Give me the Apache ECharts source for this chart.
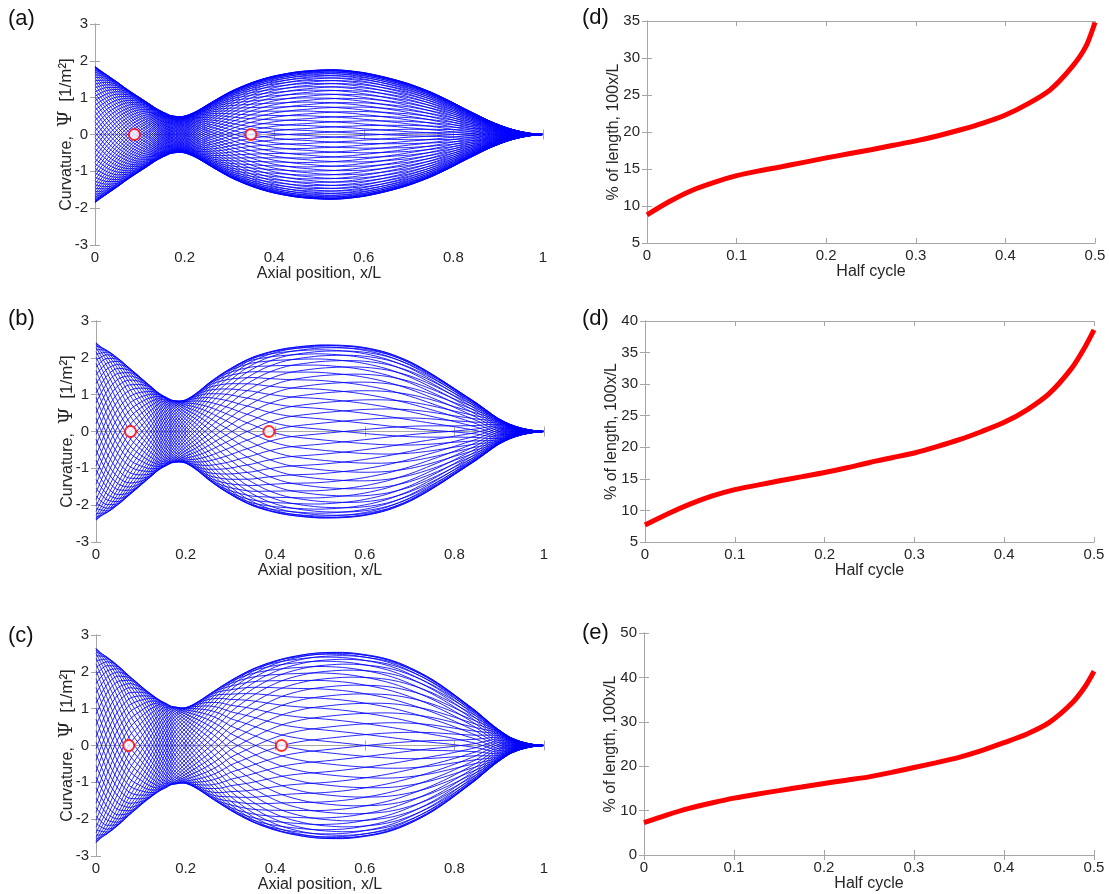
<!DOCTYPE html>
<html><head><meta charset="utf-8">
<script src="https://cdn.jsdelivr.net/npm/echarts@6/dist/echarts.min.js"></script>
<style>html,body{margin:0;padding:0;background:#fff}#c{width:1109px;height:894px}</style>
</head><body><div id="c"></div>
<script>
// Axial positions (x/L) where envelope & phase were read
const xPos = [0,0.025,0.05,0.075,0.1,0.125,0.15,0.175,0.2,0.225,0.25,0.275,0.3,0.325,0.35,0.375,0.4,0.425,0.45,0.475,0.5,0.525,0.55,0.575,0.6,0.625,0.65,0.675,0.7,0.725,0.75,0.775,0.8,0.825,0.85,0.875,0.9,0.925,0.95,0.975,1];

// Curvature envelope (max |Psi|) (a), (b), (c)
const envA = [1.85,1.63,1.42,1.2,1.0,0.8,0.62,0.5,0.5,0.62,0.8,0.98,1.15,1.29,1.41,1.51,1.59,1.65,1.7,1.73,1.75,1.76,1.75,1.72,1.68,1.62,1.55,1.47,1.38,1.27,1.15,1.01,0.86,0.7,0.55,0.4,0.27,0.16,0.08,0.025,0];
const envB = [2.41,2.2,1.98,1.72,1.46,1.2,0.97,0.84,0.86,1.05,1.3,1.52,1.71,1.88,2.02,2.12,2.2,2.26,2.3,2.33,2.35,2.35,2.34,2.32,2.28,2.22,2.14,2.03,1.9,1.74,1.56,1.37,1.17,0.97,0.77,0.55,0.34,0.19,0.09,0.03,0];
const envC = [2.64,2.4,2.16,1.88,1.62,1.38,1.18,1.05,1.03,1.17,1.37,1.57,1.76,1.93,2.08,2.2,2.3,2.38,2.44,2.49,2.52,2.53,2.53,2.51,2.47,2.42,2.35,2.25,2.12,1.97,1.8,1.6,1.38,1.15,0.92,0.66,0.42,0.22,0.1,0.03,0];

// Wave phase along the body (cycles), estimated from the zero-crossing travel in (d),(d),(e)
const phaseA = [-0.13,-0.095,-0.06,-0.022,0.017,0.06,0.138,0.245,0.34,0.403,0.441,0.463,0.481,0.493,0.501,0.506,0.51,0.512,0.514,0.515,0.517,0.518,0.52,0.521,0.523,0.524,0.526,0.527,0.529,0.53,0.532,0.534,0.537,0.541,0.547,0.57,0.61,0.645,0.665,0.675,0.68];
const phaseB = [-0.14,-0.09,-0.045,-0.003,0.034,0.083,0.161,0.247,0.321,0.374,0.413,0.44,0.459,0.475,0.486,0.496,0.503,0.508,0.511,0.513,0.515,0.517,0.519,0.521,0.523,0.525,0.527,0.529,0.531,0.533,0.535,0.537,0.54,0.545,0.553,0.575,0.615,0.65,0.67,0.68,0.685];
const phaseC = [-0.14,-0.09,-0.043,0.003,0.041,0.093,0.165,0.247,0.306,0.357,0.395,0.425,0.451,0.466,0.478,0.488,0.496,0.502,0.506,0.509,0.511,0.513,0.515,0.517,0.519,0.521,0.523,0.525,0.527,0.529,0.531,0.533,0.536,0.541,0.549,0.57,0.61,0.645,0.665,0.675,0.68];

// Number of time snapshots drawn per panel
const snapsA = 80, snapsB = 52, snapsC = 52;

// Right panels: zero-crossing position (% of length) vs half cycle
const halfCycle = [0,0.025,0.05,0.075,0.1,0.125,0.15,0.175,0.2,0.225,0.25,0.275,0.3,0.325,0.35,0.375,0.4,0.425,0.45,0.475,0.49,0.5];
const pctD1 = [8.8,10.6,12.1,13.2,14.1,14.75,15.3,15.9,16.5,17.05,17.6,18.2,18.8,19.5,20.3,21.2,22.3,23.8,25.7,28.9,31.6,34.8];
const pctD2 = [7.7,9.45,11.0,12.3,13.3,14.0,14.7,15.35,16.0,16.75,17.6,18.35,19.1,20.1,21.2,22.5,23.95,25.9,28.5,32.5,35.9,38.6];
const pctE  = [7.3,9.0,10.5,11.7,12.8,13.7,14.5,15.3,16.1,16.85,17.6,18.6,19.7,20.8,22.0,23.5,25.3,27.2,29.8,34.1,37.9,41.4];

const FONT = '"Liberation Sans", Arial, sans-serif';
const AX = '#a6a6a6', TXT = '#262626';

const leftGrids = [
  {left:95, top:24, width:448, height:221},
  {left:96, top:321, width:448, height:221},
  {left:96, top:635, width:448, height:221}
];
const rightGrids = [
  {left:647, top:21, width:448, height:222},
  {left:645, top:321, width:449, height:221},
  {left:644, top:633, width:450, height:222}
];
const rightY = [[5,35,5],[5,40,5],[0,50,10]];

const grid = [], xAxis = [], yAxis = [], series = [];

function addAxes(g, xmin, xmax, xint, ymin, ymax, yint, xName, yName, yGap, xGap, rich) {
  const gi = grid.length;
  grid.push(Object.assign({containLabel:false}, g));
  const tick = {show:true, inside:true, length:5, lineStyle:{color:AX, width:1}};
  const line = {show:true, lineStyle:{color:AX, width:1}};
  const xi = xAxis.length;
  xAxis.push({type:'value', gridIndex:gi, position:'bottom', min:xmin, max:xmax, interval:xint,
    axisLine:line, axisTick:tick, splitLine:{show:false},
    axisLabel:{color:TXT, fontSize:15, fontFamily:FONT, margin:5},
    name:xName, nameLocation:'middle', nameGap:xGap,
    nameTextStyle:{color:TXT, fontSize:16, fontFamily:FONT}});
  xAxis.push({type:'value', gridIndex:gi, position:'top', min:xmin, max:xmax, interval:xint,
    axisLine:line, axisTick:tick, axisLabel:{show:false}, splitLine:{show:false}});
  const yi = yAxis.length;
  yAxis.push({type:'value', gridIndex:gi, position:'left', min:ymin, max:ymax, interval:yint,
    axisLine:line, axisTick:tick, splitLine:{show:false},
    axisLabel:{color:TXT, fontSize:15, fontFamily:FONT, margin:7},
    name:yName, nameLocation:'middle', nameGap:yGap, nameRotate:90, nameMoveOverlap:false,
    nameTextStyle:{color:TXT, fontSize:16, fontFamily:FONT, rich:rich||{}}});
  yAxis.push({type:'value', gridIndex:gi, position:'right', min:ymin, max:ymax, interval:yint,
    axisLine:line, axisTick:tick, axisLabel:{show:false}, splitLine:{show:false}});
  return {xi, yi};
}

const envs = [envA, envB, envC], phases = [phaseA, phaseB, phaseC], snaps = [snapsA, snapsB, snapsC];
const pcts = [pctD1, pctD2, pctE];
const psiRich = {
  p:{fontSize:19, fontFamily:'"DejaVu Serif", serif', color:TXT},
  b:{fontSize:17, fontFamily:FONT, color:TXT}
};

for (let p = 0; p < 3; p++) {
  const {xi, yi} = addAxes(leftGrids[p], 0, 1, 0.2, -3, 3, 1, 'Axial position, x/L',
    'Curvature,  {p|\u03A8}  {b|[1/m\u00B2]}', 19, 15, psiRich);
  const env = envs[p], ph = phases[p], n = snaps[p];
  for (let j = 0; j < n; j++) {
    series.push({type:'line', xAxisIndex:xi, yAxisIndex:yi, smooth:0.3, symbol:'none', silent:true,
      lineStyle:{color:'#0000ff', width:0.85}, z:2,
      data: xPos.map((x,k) => [x, env[k] * Math.sin(2*Math.PI*(ph[k] - j/n))])});
  }
  const pc = pcts[p];
  series.push({type:'scatter', xAxisIndex:xi, yAxisIndex:yi, symbol:'circle', symbolSize:11, silent:true, z:5,
    itemStyle:{color:'#ffffff', borderColor:'#ff0000', borderWidth:2},
    data:[[pc[0]/100, 0], [pc[pc.length-1]/100, 0]]});
}
for (let p = 0; p < 3; p++) {
  const r = rightY[p];
  const {xi, yi} = addAxes(rightGrids[p], 0, 0.5, 0.1, r[0], r[1], r[2], 'Half cycle', '% of length, 100x/L', 25, 16);
  series.push({type:'line', xAxisIndex:xi, yAxisIndex:yi, smooth:0.25, symbol:'none', silent:true,
    lineStyle:{color:'#ff0000', width:5}, data: halfCycle.map((t,k) => [t, pcts[p][k]])});
}

const labels = [['(a)',22,20],['(b)',22,320],['(c)',22,637],['(d)',596,19],['(d)',596,320],['(e)',596,634]];
const graphic = labels.map(l => ({type:'text', left:l[1]-14, top:l[2]-12,
  style:{text:l[0], fontSize:22, fontFamily:FONT, fill:'#111'}}));

const chart = echarts.init(document.getElementById('c'), null, {renderer:'canvas'});
chart.setOption({animation:false, backgroundColor:'#ffffff', grid, xAxis, yAxis, series, graphic});
</script>
</body></html>
